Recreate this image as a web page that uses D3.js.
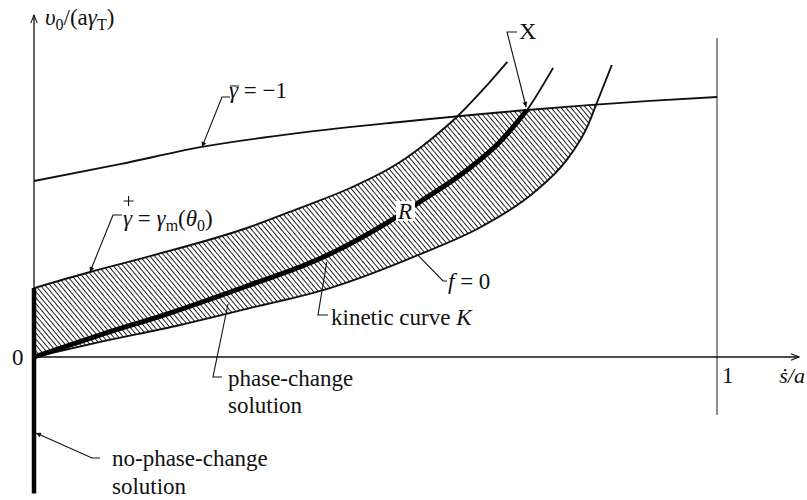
<!DOCTYPE html>
<html>
<head>
<meta charset="utf-8">
<script src="https://cdn.jsdelivr.net/npm/d3@7"></script>
<style>
  body { margin: 0; background: #fff; }
  svg { display: block; }
</style>
</head>
<body>
<svg id="chart" width="807" height="500"></svg>
<script>
// Horizontal axis ticks (ṡ/a) and their labels
const xTickValues = [0, 1];
const xTickLabels = ["0", "1"];

// Curve γ̄ = −1  [ṡ/a, υ0/(aγT)]
const gammaBarCurve = [
  [0.000, 0.677], [0.126, 0.742], [0.246, 0.808], [0.389, 0.862],
  [0.536, 0.904], [0.722, 0.950], [0.902, 0.985], [1.000, 1.000]
];

// Curve γ⁺ = γm(θ0), upper edge of the admissible band
const gammaPlusCurve = [
  [0.000, 0.265], [0.082, 0.327], [0.170, 0.388], [0.316, 0.500],
  [0.389, 0.573], [0.463, 0.650], [0.536, 0.750], [0.580, 0.835],
  [0.619, 0.923], [0.657, 1.027], [0.693, 1.135]
];

// Kinetic curve K (thick up to its crossing X with γ̄ = −1)
const kineticCurve = [
  [0.000, 0.000], [0.097, 0.085], [0.199, 0.169], [0.316, 0.277],
  [0.414, 0.373], [0.521, 0.523], [0.562, 0.592], [0.634, 0.719],
  [0.682, 0.827], [0.722, 0.950], [0.760, 1.112]
];
const kineticEndIndex = 9; // point X

// Curve f = 0, lower edge of the admissible band
const fZeroCurve = [
  [0.000, 0.000], [0.097, 0.058], [0.214, 0.123], [0.316, 0.188],
  [0.433, 0.265], [0.562, 0.392], [0.657, 0.504], [0.731, 0.631],
  [0.780, 0.758], [0.810, 0.885], [0.824, 0.977], [0.846, 1.123]
];

// Extents of the axes and guide lines, in data units
const yAxisTop = 1.315;
const xAxisEnd = 1.12;
const noPhaseChangeBottom = -0.525;
const unitLineRange = [-0.223, 1.227];

const W = 807, H = 500;
const FONT = '"Liberation Serif", Tinos, "Times New Roman", Times, "Noto Serif", "DejaVu Serif", serif';
const svg = d3.select("#chart");

const x = d3.scaleLinear().domain([0, 1]).range([34, 717]);
const y = d3.scaleLinear().domain([0, 1]).range([357, 97]);

const curve = d3.line()
  .x(d => x(d[0]))
  .y(d => y(d[1]))
  .curve(d3.curveMonotoneX);

const defs = svg.append("defs");

// diagonal hatching
defs.append("pattern")
  .attr("id", "hatch")
  .attr("patternUnits", "userSpaceOnUse")
  .attr("width", 12).attr("height", 3.8)
  .attr("patternTransform", "rotate(50)")
  .append("rect")
  .attr("width", 12).attr("height", 0.95)
  .attr("fill", "#1a1a1a");

// region below γ̄ = −1
defs.append("clipPath").attr("id", "belowBar")
  .append("path")
  .attr("d", curve(gammaBarCurve) + `L${x(1)},${H}L${x(0)},${H}Z`);

// filled arrowhead for leaders
defs.append("marker")
  .attr("id", "tip")
  .attr("viewBox", "0 0 10 10")
  .attr("refX", 10).attr("refY", 5)
  .attr("markerWidth", 8).attr("markerHeight", 5)
  .attr("markerUnits", "userSpaceOnUse")
  .attr("orient", "auto")
  .append("path").attr("d", "M0,0L10,5L0,10Z").attr("fill", "#111");

// open arrowhead for axes
defs.append("marker")
  .attr("id", "axisTip")
  .attr("viewBox", "0 0 10 10")
  .attr("refX", 10).attr("refY", 5)
  .attr("markerWidth", 10).attr("markerHeight", 8)
  .attr("markerUnits", "userSpaceOnUse")
  .attr("orient", "auto")
  .append("path").attr("d", "M0,1L10,5L0,9")
  .attr("fill", "none").attr("stroke", "#111").attr("stroke-width", 1.3);

// hatched band between γ⁺ and f = 0, cut by γ̄ = −1
const bandPath = curve(gammaPlusCurve) +
  curve(fZeroCurve.slice().reverse()).replace(/^M/, "L") + "Z";
svg.append("g").attr("clip-path", "url(#belowBar)")
  .append("path").attr("d", bandPath).attr("fill", "url(#hatch)");

// vertical line at ṡ/a = 1
svg.append("line")
  .attr("x1", x(1)).attr("x2", x(1))
  .attr("y1", y(unitLineRange[0])).attr("y2", y(unitLineRange[1]))
  .attr("stroke", "#333").attr("stroke-width", 1.1);

// axes
svg.append("line")
  .attr("x1", x(0)).attr("x2", x(xAxisEnd))
  .attr("y1", y(0)).attr("y2", y(0))
  .attr("stroke", "#111").attr("stroke-width", 1.3)
  .attr("marker-end", "url(#axisTip)");
svg.append("line")
  .attr("x1", x(0)).attr("x2", x(0))
  .attr("y1", y(0)).attr("y2", y(yAxisTop))
  .attr("stroke", "#111").attr("stroke-width", 1.3)
  .attr("marker-end", "url(#axisTip)");

// curves
const thin = { stroke: "#111", "stroke-width": 1.9, fill: "none" };
function drawCurve(data, style) {
  const p = svg.append("path").attr("d", curve(data));
  Object.entries(style).forEach(([k, v]) => p.attr(k, v));
  return p;
}
drawCurve(gammaBarCurve, thin);
drawCurve(gammaPlusCurve, thin);
drawCurve(fZeroCurve, thin);
drawCurve(kineticCurve, thin);
drawCurve(kineticCurve.slice(0, kineticEndIndex + 1),
  { stroke: "#000", "stroke-width": 5, fill: "none", "stroke-linecap": "butt" });

// no-phase-change solution along the υ0 axis
svg.append("line")
  .attr("x1", x(0)).attr("x2", x(0))
  .attr("y1", y(gammaPlusCurve[0][1])).attr("y2", y(noPhaseChangeBottom))
  .attr("stroke", "#000").attr("stroke-width", 4.5);

// ---- labels ----
const FS = 23;
function label(px, py, parts, size) {
  const t = svg.append("text").attr("x", px).attr("y", py)
    .style("font-family", FONT)
    .style("fill", "#111")
    .style("font-size", (size || FS) + "px");
  parts.forEach(p => {
    const s = t.append("tspan").text(p.t);
    if (p.i) s.style("font-style", "italic");
    if (p.sub) { s.attr("dy", 5).style("font-size", "16px"); }
    if (p.back) s.attr("dy", -5);
  });
  return t;
}
function leader(points, arrow) {
  const p = svg.append("path")
    .attr("d", d3.line()(points))
    .attr("fill", "none").attr("stroke", "#111").attr("stroke-width", 1.1);
  if (arrow) p.attr("marker-end", "url(#tip)");
}

// axis titles
label(45, 25, [{ t: "υ", i: 1 }, { t: "0", sub: 1 }, { t: "/(a", back: 1 },
  { t: "γ", i: 1 }, { t: "T", sub: 1 }, { t: ")", back: 1 }]);
label(805, 383, [{ t: "ṡ/a", i: 1 }], 22).attr("text-anchor", "end");

// tick labels
label(x(xTickValues[0]) - 22, y(0) + 8, [{ t: xTickLabels[0] }]);
label(x(xTickValues[1]) + 5, y(0) + 26, [{ t: xTickLabels[1] }]);

// γ̄ = −1
const gb = label(229, 98, [{ t: "γ", i: 1 }, { t: " = −1" }]);
{
  const e = gb.node().getExtentOfChar(0);
  svg.append("line").attr("x1", e.x + 1).attr("x2", e.x + e.width + 1)
    .attr("y1", 86).attr("y2", 86).attr("stroke", "#111").attr("stroke-width", 1);
}
leader([[230, 97], [222, 97], [x(gammaBarCurve[2][0]), y(gammaBarCurve[2][1])]], true);

// γ⁺ = γm(θ0), with the plus set above the first γ
const gp = label(123, 226, [{ t: "γ", i: 1 }, { t: " = " }, { t: "γ", i: 1 },
  { t: "m", sub: 1 }, { t: "(", back: 1 }, { t: "θ", i: 1 }, { t: "0", sub: 1 }, { t: ")", back: 1 }]);
{
  const e = gp.node().getExtentOfChar(0);
  const cx = e.x + e.width / 2 + 1;
  svg.append("path")
    .attr("d", `M${cx - 5},201H${cx + 5}M${cx},196V206`)
    .attr("stroke", "#111").attr("stroke-width", 1.1);
}
leader([[122, 215], [113, 215], [x(gammaPlusCurve[1][0]), y(gammaPlusCurve[1][1])]], true);

// X
label(519, 39, [{ t: "X" }], 24);
leader([[517, 32], [507, 32], [x(kineticCurve[kineticEndIndex][0]) - 1, y(kineticCurve[kineticEndIndex][1]) - 3]], true);

// R, on a white patch interrupting the kinetic curve
svg.append("rect").attr("x", 396).attr("y", 201).attr("width", 19).attr("height", 20).attr("fill", "#fff");
label(398, 219, [{ t: "R", i: 1 }]);

// f = 0
label(448, 289, [{ t: "f", i: 1 }, { t: " = 0" }]);
leader([[447, 281], [443, 281], [x(fZeroCurve[5][0]), y(fZeroCurve[5][1])]], false);

// kinetic curve K
label(331, 325, [{ t: "kinetic curve " }, { t: "K", i: 1 }]);
leader([[328, 315], [318, 315], [x(kineticCurve[4][0]) + 10, y(kineticCurve[4][1]) + 2]], false);

// phase-change solution
label(228, 386, [{ t: "phase-change" }]);
label(228, 413, [{ t: "solution" }]);
leader([[222, 377], [213, 377], [228, 304]], false);

// no-phase-change solution
label(112, 466, [{ t: "no-phase-change" }]);
label(112, 494, [{ t: "solution" }]);
leader([[100, 458], [92, 458], [x(0) + 2, 433]], true);
</script>
</body>
</html>
